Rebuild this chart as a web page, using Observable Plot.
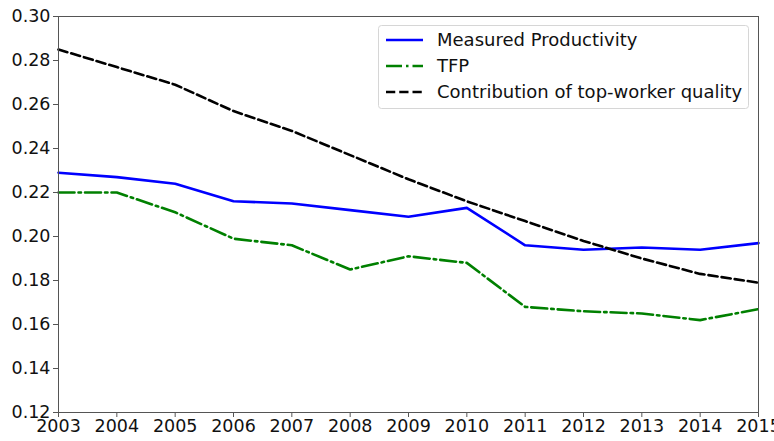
<!DOCTYPE html>
<html>
<head>
<meta charset="utf-8">
<script src="https://cdn.jsdelivr.net/npm/d3@7"></script>
<script src="https://cdn.jsdelivr.net/npm/@observablehq/plot@0.6"></script>
<style>
  html, body { margin: 0; padding: 0; background: #fff; }
  #chart { width: 774px; height: 441px; overflow: hidden; }
</style>
</head>
<body>
<div id="chart"></div>
<script>
const years = [2003, 2004, 2005, 2006, 2007, 2008, 2009, 2010, 2011, 2012, 2013, 2014, 2015];
const measured = [0.229, 0.227, 0.224, 0.216, 0.215, 0.212, 0.209, 0.213, 0.196, 0.194, 0.195, 0.194, 0.197];
const tfp = [0.220, 0.220, 0.211, 0.199, 0.196, 0.185, 0.191, 0.188, 0.168, 0.166, 0.165, 0.162, 0.167];
const topWorker = [0.285, 0.277, 0.269, 0.257, 0.248, 0.237, 0.226, 0.216, 0.207, 0.198, 0.190, 0.183, 0.179];
const yTicks = [0.12, 0.14, 0.16, 0.18, 0.20, 0.22, 0.24, 0.26, 0.28, 0.30];
const seriesNames = ["Measured Productivity", "TFP", "Contribution of top-worker quality"];

const series = [
  {name: seriesNames[0], values: measured, stroke: "#0000ff", dash: null},
  {name: seriesNames[1], values: tfp, stroke: "#008000", dash: "16,4,2.5,4"},
  {name: seriesNames[2], values: topWorker, stroke: "#000000", dash: "9.25,4"}
];

const lineMarks = series.map(s =>
  Plot.line(years.map((y, i) => ({year: y, value: s.values[i]})), {
    x: "year", y: "value", stroke: s.stroke, strokeWidth: 2.6,
    strokeDasharray: s.dash || undefined
  })
);

const font = "'DejaVu Sans', sans-serif";
const chart = Plot.plot({
  width: 774,
  height: 441,
  marginLeft: 58,
  marginRight: 16,
  marginTop: 16,
  marginBottom: 29,
  style: {fontFamily: font, fontSize: "17px", color: "#111", background: "#fff", overflow: "visible"},
  x: {domain: [2003, 2015], ticks: years, tickFormat: d => String(d), label: null},
  y: {domain: [0.12, 0.30], ticks: yTicks, tickFormat: d3.format(".2f"), label: null},
  marks: [
    ...lineMarks,
    Plot.frame({stroke: "#555", strokeWidth: 1}),
    Plot.axisX({ticks: years, tickFormat: d => String(d), tickSize: 5, tickPadding: 2, label: null, fontSize: 17.5, stroke: "#555"}),
    Plot.axisY({ticks: yTicks, tickFormat: d3.format(".2f"), tickSize: 5, tickPadding: 3, label: null, fontSize: 17.5, stroke: "#555"})
  ]
});
document.getElementById("chart").appendChild(chart);

// Legend (matplotlib-style, upper right)
const svg = d3.select(chart);
const lg = svg.append("g").attr("font-family", font).attr("font-size", 18).attr("text-anchor", "start");
lg.append("rect").attr("x", 378.5).attr("y", 25.5).attr("width", 370).attr("height", 83)
  .attr("rx", 3).attr("fill", "#fff").attr("fill-opacity", 0.8).attr("stroke", "#d6d6d6");
series.forEach((s, i) => {
  const yy = 40 + i * 26;
  lg.append("line").attr("x1", 386).attr("x2", 423).attr("y1", yy).attr("y2", yy)
    .attr("stroke", s.stroke).attr("stroke-width", 2.6)
    .attr("stroke-dasharray", s.dash);
  lg.append("text").attr("x", 437).attr("y", yy).attr("dy", "0.35em").attr("text-anchor", "start")
    .attr("fill", "#111").text(s.name);
});
</script>
</body>
</html>
